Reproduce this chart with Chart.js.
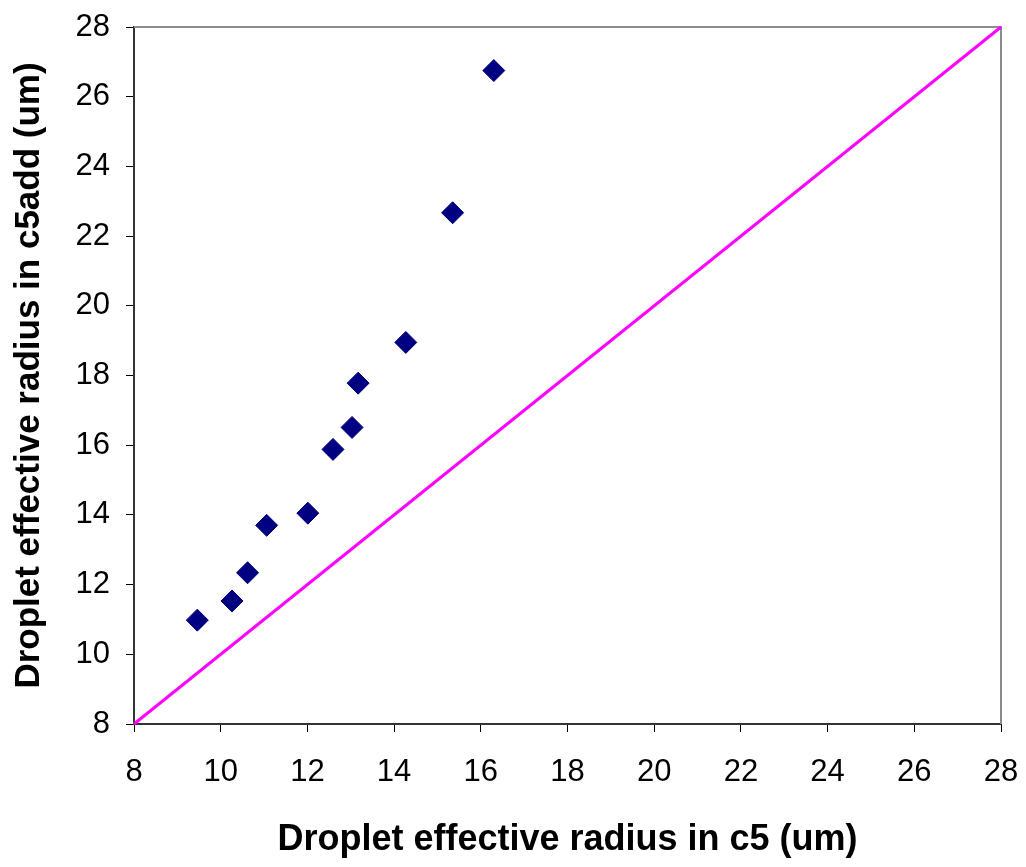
<!DOCTYPE html>
<html>
<head>
<meta charset="utf-8">
<script src="https://cdn.jsdelivr.net/npm/chart.js@4.4.0/dist/chart.umd.min.js"></script>
<style>
  html, body { margin: 0; padding: 0; background: #fff; }
  #wrap { width: 1026px; height: 867px; }
</style>
</head>
<body>
<div id="wrap"><canvas id="chart" width="1026" height="867"></canvas></div>
<script>
// c5 vs c5add droplet effective radius (um)
const c5Radius = [9.46, 10.26, 10.62, 11.06, 12.01, 12.59, 13.03, 13.17, 14.27, 15.35, 16.30];
const c5addRadius = [10.98, 11.53, 12.34, 13.70, 14.05, 15.88, 16.51, 17.78, 18.95, 22.67, 26.75];
const oneToOne = [8, 28];
const axisMin = 8, axisMax = 28, axisStep = 2;

const FONT = '"Liberation Sans", Arial, sans-serif';

// gray frame on top/right like the Excel plot area
const plotFrame = {
  id: 'plotFrame',
  beforeDatasetsDraw(chart) {
    const { ctx, chartArea: a } = chart;
    ctx.save();
    ctx.strokeStyle = '#8c8c8c';
    ctx.lineWidth = 2;
    ctx.beginPath();
    ctx.moveTo(a.left, a.top);
    ctx.lineTo(a.right, a.top);
    ctx.lineTo(a.right, a.bottom);
    ctx.stroke();
    ctx.restore();
  }
};

// let the tick labels hang over the edges instead of shrinking the plot
function noOverflowPad(scale) {
  scale.paddingTop = 0;
  scale.paddingRight = 0;
  scale.paddingLeft = 0;
  scale.paddingBottom = 0;
}

new Chart(document.getElementById('chart'), {
  type: 'scatter',
  data: {
    datasets: [
      {
        label: 'c5add vs c5',
        data: c5Radius.map((x, i) => ({ x: x, y: c5addRadius[i] })),
        pointStyle: 'rectRot',
        pointRadius: 11,
        backgroundColor: '#000080',
        borderColor: '#000080',
        borderWidth: 1,
        order: 1
      },
      {
        label: '1:1',
        type: 'line',
        data: oneToOne.map(v => ({ x: v, y: v })),
        borderColor: '#ff00ff',
        borderWidth: 3,
        pointRadius: 0,
        fill: false,
        clip: 8,
        order: 2
      }
    ]
  },
  options: {
    responsive: false,
    animation: false,
    layout: { padding: { top: 27, right: 25, left: 0, bottom: 0 } },
    plugins: { legend: { display: false }, tooltip: { enabled: false } },
    scales: {
      x: {
        type: 'linear',
        min: axisMin, max: axisMax,
        ticks: { stepSize: axisStep, color: '#000', padding: 22, font: { family: FONT, size: 31 } },
        grid: { drawOnChartArea: false, drawTicks: true, tickLength: 8, color: '#000', lineWidth: 1 },
        border: { display: true, color: '#333', width: 2 },
        title: {
          display: true,
          text: 'Droplet effective radius in c5 (um)',
          color: '#000',
          font: { family: FONT, size: 36, weight: 'bold' },
          padding: { top: 0, bottom: 5 }
        },
        afterFit(scale) { scale.height = 143; noOverflowPad(scale); }
      },
      y: {
        type: 'linear',
        min: axisMin, max: axisMax,
        ticks: { stepSize: axisStep, color: '#000', padding: 16, font: { family: FONT, size: 31 } },
        grid: { drawOnChartArea: false, drawTicks: true, tickLength: 8, color: '#000', lineWidth: 1 },
        border: { display: true, color: '#333', width: 2 },
        title: {
          display: true,
          text: 'Droplet effective radius in c5add (um)',
          color: '#000',
          font: { family: FONT, size: 35, weight: 'bold' },
          padding: { top: 8, bottom: 0 }
        },
        afterFit(scale) { scale.width = 134; noOverflowPad(scale); }
      }
    }
  },
  plugins: [plotFrame]
});
</script>
</body>
</html>
